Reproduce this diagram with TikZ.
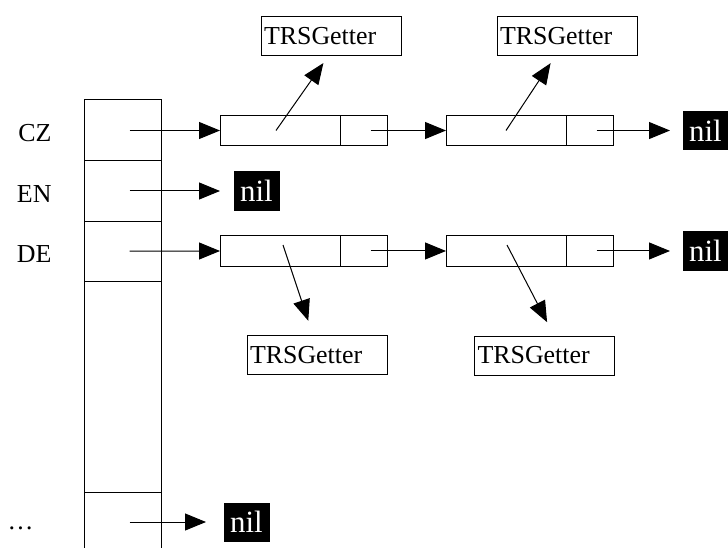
\documentclass[tikz,border=0pt]{standalone}
\usepackage{fontspec}
\setmainfont{Liberation Serif}
\usetikzlibrary{arrows.meta,positioning}

\begin{document}
\begin{tikzpicture}[x=1bp,y=-1bp,line width=1bp,
    cell/.style={draw,minimum width=77bp,inner sep=0pt,outer sep=0pt},
    lbl/.style={font=\fontsize{26}{30}\selectfont,inner sep=0pt},
    datapart/.style={draw,minimum width=120bp,minimum height=30bp,inner sep=0pt,outer sep=0pt},
    nextpart/.style={draw,minimum width=47bp,minimum height=30bp,inner sep=0pt,outer sep=0pt},
    getter/.style={draw,font=\fontsize{26}{30}\selectfont,text width=134bp,minimum height=39bp,inner xsep=3bp,inner ysep=0pt,align=left},
    nilbox/.style={fill=black,text=white,font=\fontsize{31}{34}\selectfont,minimum width=46bp,minimum height=39bp,inner sep=0pt},
    ptr/.style={-{Triangle[length=21bp,width=17bp]}}]
    \useasboundingbox (0,0) rectangle (728,548);

    \node[cell,minimum height=61bp] (cz) at (122.5,130.5) {};
    \node[cell,minimum height=60bp,below=0pt of cz] (en) {};
    \node[cell,minimum height=60bp,below=0pt of en] (de) {};
    \node[cell,minimum height=211bp,below=0pt of de] (gap) {};
    \node[cell,minimum height=60bp,below=0pt of gap] (dots) {};

    \node[lbl,left=32bp of cz,yshift=-3bp] (czl) {CZ};
    \node[lbl,left=32bp of en,yshift=-3bp] (enl) {EN};
    \node[lbl,left=32bp of de,yshift=-3bp] (del) {DE};
    \node[lbl,left=50bp of dots,yshift=-6bp] (dotsl) {\ldots};

    \node[datapart] (czd1) at (280,130.5) {};
    \node[nextpart,right=0pt of czd1] (czn1) {};
    \node[datapart,right=59bp of czn1] (czd2) {};
    \node[nextpart,right=0pt of czd2] (czn2) {};
    \node[nilbox,right=69bp of czn2] (nilcz) {nil};

    \node[datapart] (ded1) at (280,251) {};
    \node[nextpart,right=0pt of ded1] (den1) {};
    \node[datapart,right=59bp of den1] (ded2) {};
    \node[nextpart,right=0pt of ded2] (den2) {};
    \node[nilbox,right=69bp of den2] (nilde) {nil};

    \node[nilbox,right=72bp of en] (nilen) {nil};
    \node[nilbox,right=62bp of dots] (nildots) {nil};

    \node[getter] (tg1) at (331,36.5) {TRSGetter};
    \node[getter] (tg2) at (567,36.5) {TRSGetter};
    \node[getter] (tg3) at (317,355) {TRSGetter};
    \node[getter] (tg4) at (544.5,355.5) {TRSGetter};

    \draw[ptr] ([xshift=7bp]cz.center) -- (czd1.west);
    \draw[ptr] ([xshift=7bp]czn1.center) -- (czd2.west);
    \draw[ptr,shorten >=12bp] ([xshift=7bp]czn2.center) -- (nilcz.west);
    \draw[ptr,shorten >=13bp] ([xshift=7bp]en.center) -- (nilen.west);
    \draw[ptr] ([xshift=7bp]de.center) -- (ded1.west);
    \draw[ptr] ([xshift=7bp]den1.center) -- (ded2.west);
    \draw[ptr,shorten >=12bp] ([xshift=7bp]den2.center) -- (nilde.west);
    \draw[ptr,shorten >=17bp] ([xshift=7bp]dots.center) -- (nildots.west);

    \draw[ptr,shorten >=8bp] ([xshift=-4bp]czd1.center) -- ([xshift=-3bp]tg1.south);
    \draw[ptr,shorten >=8bp] (czd2.center) -- ([xshift=-12bp]tg2.south);
    \draw[ptr,shorten >=15bp] ([shift={(3,-6)}]ded1.center) -- ([xshift=-4bp]tg3.north);
    \draw[ptr,shorten >=15bp] ([shift={(1,-6)}]ded2.center) -- ([xshift=9.5bp]tg4.north);
\end{tikzpicture}
\end{document}
